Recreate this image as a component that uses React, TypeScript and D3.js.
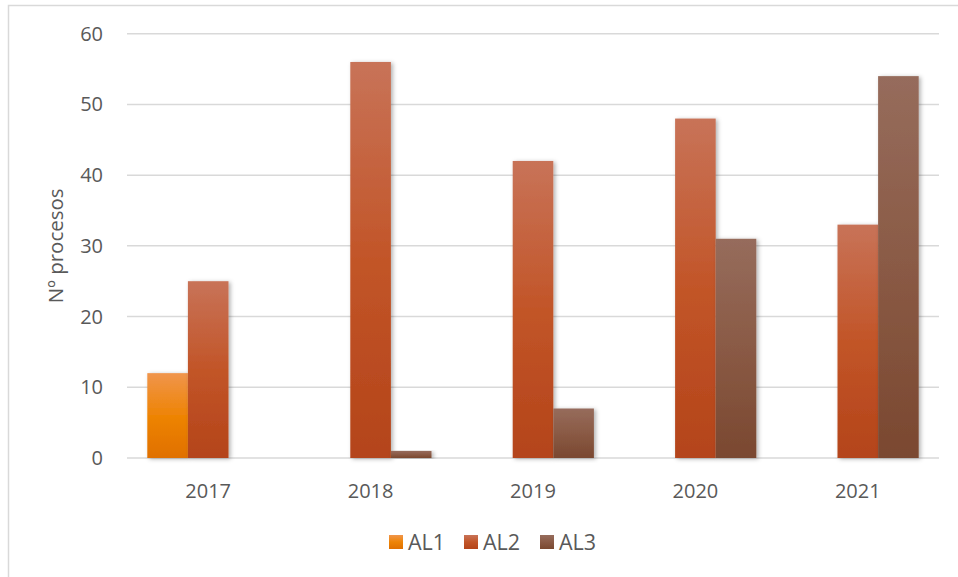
import React from "react";
import * as d3 from "d3";

const years = ["2017", "2018", "2019", "2020", "2021"];
const seriesNames = ["AL1", "AL2", "AL3"];
const al1 = [12, 0, 0, 0, 0];
const al2 = [25, 56, 42, 48, 33];
const al3 = [0, 1, 7, 31, 54];
const yTicks = [0, 10, 20, 30, 40, 50, 60];

const W = 958;
const H = 577;
const left = 127;
const right = 939;
const top = 33.7;
const bottom = 458;

const gradients = [
  { id: "g1", top: "#F0954C", mid: "#EE8405", bottom: "#E07000" },
  { id: "g2", top: "#C87358", mid: "#C25528", bottom: "#B4441A" },
  { id: "g3", top: "#966C5C", mid: "#8A5A45", bottom: "#7A4830" },
];

const FONT = "'Open Sans', 'Noto Sans', sans-serif";
const TEXT = "#595959";

export default function App() {
  const series = [al1, al2, al3];
  const x0 = d3.scaleBand<string>().domain(years).range([left, right]).paddingInner(0).paddingOuter(0);
  const bw = x0.bandwidth();
  const x1 = d3
    .scaleBand<string>()
    .domain(seriesNames)
    .range([bw / 8, bw - bw / 8])
    .padding(0);
  const y = d3.scaleLinear().domain([0, 60]).range([bottom, top]);

  return (
    <svg
      width={W}
      height={H}
      style={{ position: "absolute", left: 0, top: 0, display: "block", background: "#fff" }}
      fontFamily={FONT}
    >
      <defs>
        {gradients.map((g) => (
          <linearGradient key={g.id} id={g.id} x1="0" y1="0" x2="0" y2="1">
            <stop offset="0" stopColor={g.top} />
            <stop offset="0.5" stopColor={g.mid} />
            <stop offset="1" stopColor={g.bottom} />
          </linearGradient>
        ))}
        <filter id="shadow" x="-30%" y="-10%" width="160%" height="120%">
          <feDropShadow dx="2" dy="1" stdDeviation="2" floodColor="#000" floodOpacity="0.3" />
        </filter>
      </defs>
      <rect x={8.5} y={5.5} width={W + 10} height={H + 10} fill="#fff" stroke="#d9d9d9" strokeWidth={1.5} />
      {yTicks.map((t) => (
        <g key={t}>
          <line x1={left} x2={right} y1={y(t)} y2={y(t)} stroke="#d9d9d9" strokeWidth={1.5} />
          <text x={103} y={y(t)} dy="0.35em" textAnchor="end" fontSize={20} fill={TEXT}>
            {t}
          </text>
        </g>
      ))}
      <text
        transform={`translate(63,${(top + bottom) / 2}) rotate(-90)`}
        textAnchor="middle"
        fontSize={20.5}
        fill={TEXT}
      >
        Nº procesos
      </text>
      {years.map((yr, i) => (
        <g key={yr} transform={`translate(${x0(yr)},0)`}>
          {series.map((s, j) =>
            s[i] > 0 ? (
              <rect
                key={j}
                x={x1(seriesNames[j])}
                y={y(s[i])}
                width={x1.bandwidth()}
                height={y(0) - y(s[i])}
                fill={`url(#${gradients[j].id})`}
                filter="url(#shadow)"
              />
            ) : null
          )}
          <text x={bw / 2} y={491} dy="0.35em" textAnchor="middle" fontSize={20} fill={TEXT}>
            {yr}
          </text>
        </g>
      ))}
      {seriesNames.map((n, j) => {
        const lx = [389, 464, 540][j];
        return (
          <g key={n}>
            <rect x={lx} y={535} width={14} height={14} fill={`url(#${gradients[j].id})`} />
            <text x={lx + 19} y={542} dy="0.35em" fontSize={21.5} fill={TEXT}>
              {n}
            </text>
          </g>
        );
      })}
    </svg>
  );
}
